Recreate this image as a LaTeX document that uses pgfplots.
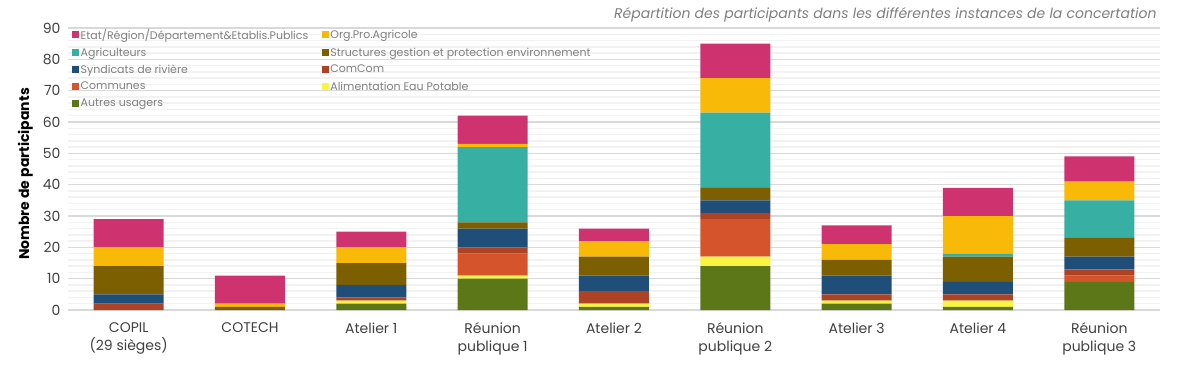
\documentclass[border=0pt]{standalone}
\usepackage{pgfplots}
\pgfplotsset{compat=1.18}
\usepackage{pgfplotstable}
\usepackage{fontspec}
\setmainfont{Poppins}
\definecolor{cEtat}{HTML}{CE3370}
\definecolor{cOrg}{HTML}{F8B908}
\definecolor{cAgri}{HTML}{38AFA3}
\definecolor{cStruct}{HTML}{7C5F00}
\definecolor{cSynd}{HTML}{1F4E79}
\definecolor{cComCom}{HTML}{AD4225}
\definecolor{cCommunes}{HTML}{D5542C}
\definecolor{cAEP}{HTML}{FBF542}
\definecolor{cAutres}{HTML}{5B7718}
\definecolor{gridmaj}{HTML}{D9D9D9}
\definecolor{gridmin}{HTML}{F2F2F2}
\definecolor{txt}{HTML}{404040}
\definecolor{legtxt}{HTML}{7F7F7F}
\pgfplotstableread{
x autres aep communes comcom synd struct agri org etat
0 0 0 0 2 3 9 0 6 9
1 0 0 0 0 0 1 0 1 9
2 2 1 0 1 4 7 0 5 5
3 10 1 7 2 6 2 24 1 9
4 1 1 0 4 5 6 0 5 4
5 14 3 12 2 4 4 24 11 11
6 2 1 0 2 6 5 0 5 6
7 1 2 0 2 4 8 1 12 9
8 9 0 2 2 4 6 12 6 8
}\data
\begin{document}
\begin{tikzpicture}[x=1pt,y=1pt]
\path[use as bounding box] (0,0) rectangle (1179,376);
\begin{axis}[
  at={(68pt,66pt)}, anchor=south west,
  scale only axis, width=1092pt, height=282pt,
  ybar stacked, bar width=70pt,
  xmin=-0.5, xmax=8.5, ymin=0, ymax=90,
  xtick=data,
  xticklabels={{COPIL\\(29 sièges)},COTECH,{Atelier 1},{Réunion\\publique 1},{Atelier 2},{Réunion\\publique 2},{Atelier 3},{Atelier 4},{Réunion\\publique 3}},
  xticklabel style={align=center, font=\fontsize{14}{18}\selectfont, text=txt, yshift=-9pt},
  ytick={0,10,...,90},
  minor ytick={2,4,...,88},
  yticklabel style={font=\fontsize{14}{16}\selectfont, text=txt, xshift=-4pt},
  /pgf/number format/assume math mode=true,
  ymajorgrids, yminorgrids,
  major grid style={draw=gridmaj, line width=1.5pt},
  minor grid style={draw=gridmin, line width=1.5pt},
  axis line style={draw=none},
  major tick style={draw=none}, minor tick style={draw=none},
  ylabel={\bfseries Nombre de participants},
  ylabel style={font=\fontsize{14}{16}\selectfont, text=black, yshift=3pt, xshift=-5pt},
  every axis plot/.append style={draw=none},
  reverse legend,
  legend columns=2,
  legend image code/.code={\fill[#1] (0pt,-3.5pt) rectangle (7pt,3.5pt);},
  legend style={at={(0,1)}, anchor=north west, xshift=1pt, yshift=3pt, draw=none, fill=none,
    font=\fontsize{11}{13}\selectfont, text=legtxt, row sep=4.1pt,
    /tikz/every even column/.append style={column sep=12pt},
    nodes={inner sep=1.5pt}},
  legend cell align=left,
]
\addplot[fill=cAutres] table[x=x,y=autres]{\data};
\addlegendentry{Autres usagers}
\addplot[fill=cAEP] table[x=x,y=aep]{\data};
\addlegendentry{Alimentation Eau Potable}
\addplot[fill=cCommunes] table[x=x,y=communes]{\data};
\addlegendentry{Communes}
\addplot[fill=cComCom] table[x=x,y=comcom]{\data};
\addlegendentry{ComCom}
\addplot[fill=cSynd] table[x=x,y=synd]{\data};
\addlegendentry{Syndicats de rivière}
\addplot[fill=cStruct] table[x=x,y=struct]{\data};
\addlegendentry{Structures gestion et protection environnement}
\addplot[fill=cAgri] table[x=x,y=agri]{\data};
\addlegendentry{Agriculteurs}
\addplot[fill=cOrg] table[x=x,y=org]{\data};
\addlegendentry{Org.Pro.Agricole}
\addplot[fill=cEtat] table[x=x,y=etat]{\data};
\addlegendentry{Etat/Région/Département\&Etablis.Publics}
\end{axis}
\node[anchor=base east, font=\itshape\fontsize{14}{16}\selectfont, text=legtxt] at (1160pt,357pt) {Répartition des participants dans les différentes instances de la concertation};
\end{tikzpicture}
\end{document}
